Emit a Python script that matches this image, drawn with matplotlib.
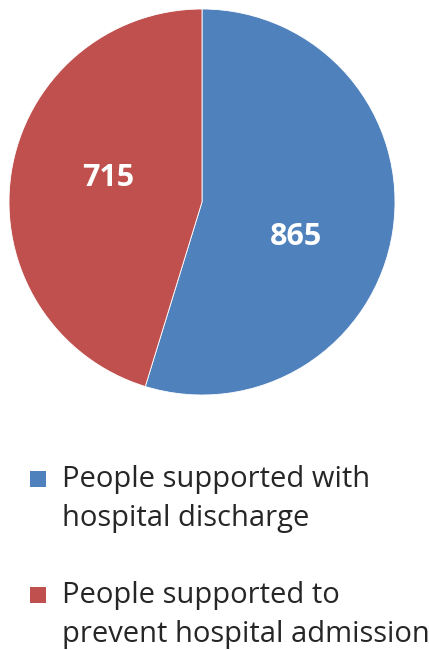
import numpy as np
import matplotlib.pyplot as plt
from matplotlib.patches import Rectangle

labels = ["People supported with\nhospital discharge",
          "People supported to\nprevent hospital admission"]
values = [865, 715]
colors = ["#4F81BD", "#C0504D"]

plt.rcParams["font.family"] = ["Open Sans", "DejaVu Sans"]

W, H = 429, 650
fig = plt.figure(figsize=(W / 100, H / 100), dpi=100)

# pie area: centre (202, 202) px, radius ~193 px
cx, cy, r = 202, 202, 193
ax = fig.add_axes([(cx - r) / W, (H - cy - r) / H, 2 * r / W, 2 * r / H])

wedges, _, autotexts = ax.pie(
    values,
    colors=colors,
    startangle=90,
    counterclock=False,
    autopct=lambda p: f"{p * sum(values) / 100:.0f}",
    pctdistance=0.51,
    wedgeprops=dict(edgecolor="white", linewidth=0.6),
    textprops=dict(color="white", fontsize=22, fontweight="bold"),
)
# Excel-style label placement (slightly rotated from the mid angle)
for w, t in zip(wedges, autotexts):
    mid = np.deg2rad((w.theta1 + w.theta2) / 2 - 9)
    t.set_position((0.51 * np.cos(mid), 0.51 * np.sin(mid) - 0.03))
    t.set_ha("center")
    t.set_va("center")

ax.set_xlim(-1, 1)
ax.set_ylim(-1, 1)
ax.set_aspect("equal")

# legend drawn by hand so the square sits at the first line
leg_top = [463, 579]
for i, (lab, col) in enumerate(zip(labels, colors)):
    top = leg_top[i]
    fig.patches.append(Rectangle((30 / W, 1 - (top + 24) / H), 16 / W, 16 / H,
                                 transform=fig.transFigure, facecolor=col,
                                 edgecolor="none"))
    fig.text(62 / W, 1 - (top + 2) / H, lab, ha="left", va="top",
             fontsize=21, color="#262626", linespacing=1.45)

fig.savefig("out.png", dpi=100)
